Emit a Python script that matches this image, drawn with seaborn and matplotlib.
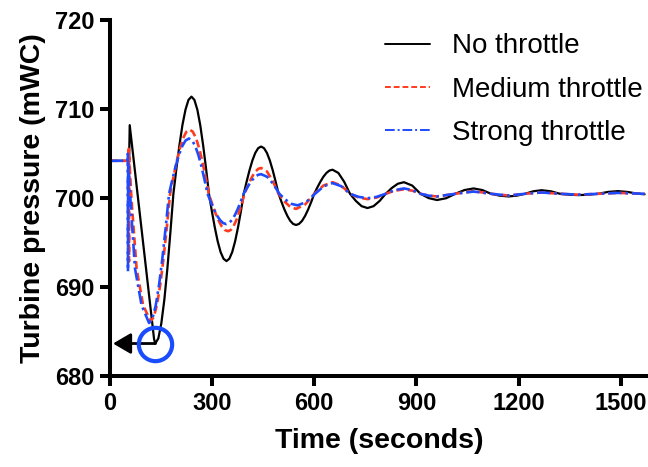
import matplotlib
matplotlib.use("Agg")
import matplotlib.pyplot as plt
import seaborn as sns

# -----------------------------
# data (time in s, pressure in mWC)
# -----------------------------
t_none = [0, 56.1, 57.9, 129.4, 133.0, 141.9, 150.7, 159.6, 168.5, 177.3, 186.2, 195.0, 203.9,
          212.7, 221.7, 230.4, 239.3,
          247.9, 256.5, 265.0, 273.5, 282.1, 290.6, 299.2, 307.8, 316.3, 324.8, 333.4, 342.0,
          350.5, 358.9, 367.4, 375.9, 384.4, 392.8, 401.3, 409.8, 418.3, 426.7, 435.2, 443.7,
          452.3, 460.8, 469.3, 477.8, 486.4, 495.0, 503.6, 512.1, 520.7, 529.2, 537.8, 546.3,
          555.2, 564.2, 573.1, 582.0, 591.0, 599.9, 608.8, 617.8, 626.7, 635.6, 644.6, 653.5,
          670.6, 687.7, 704.8, 722.0, 739.0, 756.1, 774.0, 791.9, 809.7, 827.6, 845.5, 863.3,
          887.6, 911.9, 936.2, 960.5, 987.0, 1014.0, 1041.1, 1067.7, 1093.3, 1119.0, 1144.6, 1170.3,
          1194.6, 1218.9, 1243.1, 1267.4, 1294.5, 1321.5, 1348.5, 1375.5, 1404.9, 1434.2, 1462.6, 1491.9,
          1521.2, 1550.6, 1570]
p_none = [704.2, 704.2, 708.2, 684.2, 683.7, 684.27, 685.95, 688.62, 692.1, 696.15, 700.5, 703.32, 705.95,
          708.21, 709.94, 711.03, 711.4,
          711.03, 709.94, 708.21, 705.95, 703.32, 700.5, 698.54, 696.72, 695.16, 693.96, 693.21, 692.95,
          693.21, 693.96, 695.16, 696.72, 698.54, 700.5, 701.87, 703.15, 704.25, 705.09, 705.62, 705.8,
          705.62, 705.09, 704.25, 703.15, 701.87, 700.5, 699.59, 698.75, 698.03, 697.47, 697.12, 697.0,
          697.12, 697.47, 698.03, 698.75, 699.59, 700.5, 701.2, 701.85, 702.41, 702.84, 703.11, 703.2,
          702.84, 701.85, 700.5, 699.7, 699.11, 698.9, 699.11, 699.7, 700.5, 701.15, 701.63, 701.8,
          701.42, 700.5, 700.01, 699.8, 700.0, 700.5, 700.92, 701.1, 700.92, 700.5, 700.29, 700.2,
          700.29, 700.5, 700.78, 700.9, 700.78, 700.5, 700.4, 700.35, 700.4, 700.5, 700.71, 700.8,
          700.7, 700.5, 700.45]

t_medium = [0, 54.8, 55.3, 55.8, 56.3, 63.4, 78.1, 97.3, 119.3, 128.8, 138.4, 147.9, 157.5, 167.0, 176.6,
            186.1, 195.6, 205.2, 214.8, 224.3, 233.8,
            243.2, 252.6, 262.0, 271.4, 280.8, 290.2, 299.6, 309.0, 318.4, 327.8, 337.1, 346.5,
            354.6, 362.8, 370.8, 378.9, 387.0, 395.1, 403.2, 411.3, 419.4, 427.5, 435.6, 443.7,
            460.8, 477.8, 495.0, 512.1, 529.2, 546.3, 573.1, 599.9, 626.8, 653.5,
            679.2, 704.8, 730.5, 756.1, 783.0, 809.7, 836.6, 863.3, 887.6, 911.9, 936.2, 960.5,
            1014.0, 1067.7, 1119.0, 1170.3, 1218.9, 1267.4, 1321.5, 1375.5, 1434.2, 1491.9, 1570]
p_medium = [704.2, 704.2, 705.8, 692.9, 704.6, 699.7, 692.1, 688.0, 686.2, 686.69, 688.12, 690.39, 693.35, 696.8, 700.5,
            702.36, 704.1, 705.59, 706.74, 707.46, 707.7,
            707.46, 706.74, 705.59, 704.1, 702.36, 700.5, 699.41, 698.4, 697.53, 696.86, 696.44, 696.3,
            696.44, 696.86, 697.53, 698.4, 699.41, 700.5, 701.25, 701.95, 702.55, 703.01, 703.3, 703.4,
            703.01, 701.95, 700.5, 699.65, 699.03, 698.8, 699.3, 700.5, 701.42, 701.8,
            701.42, 700.5, 700.08, 699.9, 700.08, 700.5, 700.85, 701.0, 700.85, 700.5, 700.29, 700.2,
            700.5, 700.8, 700.5, 700.3, 700.5, 700.65, 700.5, 700.4, 700.5, 700.6, 700.5]

t_strong = [0, 51.8, 52.3, 52.8, 53.3, 63.4, 73.5, 92.7, 114.7, 124.5, 134.2, 144.0, 153.8, 163.6, 173.4,
            183.2, 192.9, 202.7, 212.5, 222.2, 232.0,
            241.1, 250.2, 259.3, 268.4, 277.4, 286.5, 295.6, 304.7, 313.8, 322.9, 331.9, 341.0,
            349.6, 358.2, 366.7, 375.2, 383.8, 392.4, 400.9, 409.5, 418.0, 426.5, 435.1, 443.7,
            461.5, 479.4, 497.3, 515.1, 533.0, 550.9, 576.5, 602.2, 627.9, 653.5,
            679.2, 704.8, 730.5, 756.1, 782.7, 809.7, 836.8, 863.3, 887.6, 911.9, 936.2, 960.5,
            1014.0, 1067.7, 1119.0, 1170.3, 1218.9, 1267.4, 1321.5, 1375.5, 1434.2, 1491.9, 1570]
p_strong = [704.2, 704.2, 705.0, 691.8, 704.0, 697.8, 692.1, 688.0, 686.0, 686.5, 687.94, 690.25, 693.25, 696.74, 700.5,
            702.11, 703.6, 704.88, 705.87, 706.49, 706.7,
            706.49, 705.87, 704.88, 703.6, 702.11, 700.5, 699.62, 698.8, 698.1, 697.56, 697.22, 697.1,
            697.22, 697.56, 698.1, 698.8, 699.62, 700.5, 701.07, 701.6, 702.06, 702.41, 702.63, 702.7,
            702.41, 701.6, 700.5, 699.85, 699.37, 699.2, 699.58, 700.5, 701.35, 701.7,
            701.35, 700.5, 700.15, 700.0, 700.15, 700.5, 700.92, 701.1, 700.92, 700.5, 700.29, 700.2,
            700.5, 700.75, 700.5, 700.3, 700.5, 700.65, 700.5, 700.4, 700.5, 700.6, 700.5]

labels = ["No throttle", "Medium throttle", "Strong throttle"]
x_ticks = [0, 300, 600, 900, 1200, 1500]
y_ticks = [680, 690, 700, 710, 720]
min_point = (131.7, 683.7)
arrow_tip = 8.8

sns.set_style("ticks")
plt.rcParams["font.family"] = ["Liberation Sans", "DejaVu Sans"]
plt.rcParams.update({"text.color": "black", "axes.labelcolor": "black",
                     "xtick.color": "black", "ytick.color": "black",
                     "axes.edgecolor": "black"})

fig = plt.figure(figsize=(6.48, 4.67), dpi=100)
ax = fig.add_axes([110 / 648, 0.1938, 538 / 648, 0.7634])

sns.lineplot(x=t_none, y=p_none, ax=ax, color="black", lw=1.6, sort=False,
             estimator=None, label=labels[0])
sns.lineplot(x=t_medium, y=p_medium, ax=ax, color="#ff3b1f", lw=1.9, sort=False,
             estimator=None, label=labels[1], dashes=False, linestyle=(0, (3, 1.5)))
sns.lineplot(x=t_strong, y=p_strong, ax=ax, color="#1f4bff", lw=1.9, sort=False,
             estimator=None, label=labels[2], dashes=False, linestyle=(0, (5, 1.5, 1, 1.5)))

# arrow to the y axis and ring around the minimum
ax.annotate("", xy=(arrow_tip, min_point[1]), xytext=(min_point[0] + 2, min_point[1]),
            arrowprops=dict(arrowstyle="-|>,head_length=0.6,head_width=0.35",
                            color="black", lw=2, mutation_scale=18, shrinkA=0, shrinkB=0),
            zorder=5)
ax.plot([min_point[0]], [min_point[1]], marker="o", ms=24, mfc="none",
        mec="#1a4cff", mew=3, zorder=6, clip_on=False)

ax.set_xlim(0, 1580)
ax.set_ylim(680, 720)
ax.set_xticks(x_ticks)
ax.set_yticks(y_ticks)
for lab in ax.get_xticklabels() + ax.get_yticklabels():
    lab.set_fontweight("bold")
ax.tick_params(labelsize=17, width=2.9, length=7.5, pad=4)

ax.set_xlabel("Time (seconds)", fontsize=20.5, fontweight="bold", labelpad=9)
ax.set_ylabel("Turbine pressure (mWC)", fontsize=20.5, fontweight="bold", labelpad=6)

sns.despine(ax=ax)
for s in ["left", "bottom"]:
    ax.spines[s].set_linewidth(2.9)

leg = ax.legend(loc="upper right", frameon=False, fontsize=20, handlelength=1.6,
                labelspacing=0.62, handletextpad=0.8, borderaxespad=0.1, borderpad=0.0,
                bbox_to_anchor=(0.995, 0.97))
for line in leg.get_lines():
    line.set_linewidth(1.4)

fig.savefig("out.png", dpi=100)
